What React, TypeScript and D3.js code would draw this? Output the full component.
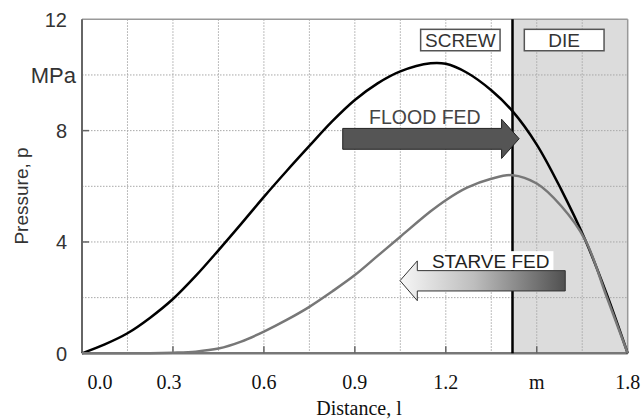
import React from "react";
import * as d3 from "d3";

const distance = [0, 0.075, 0.15, 0.225, 0.3, 0.375, 0.45, 0.525, 0.6, 0.675, 0.75, 0.825, 0.9, 0.975, 1.05, 1.15, 1.2, 1.27, 1.35, 1.42, 1.5, 1.58, 1.66, 1.73, 1.8];
const floodFed = [0, 0.32, 0.72, 1.28, 1.95, 2.78, 3.7, 4.65, 5.62, 6.55, 7.45, 8.33, 9.1, 9.7, 10.13, 10.42, 10.4, 10.08, 9.45, 8.7, 7.5, 5.9, 4.07, 2.15, 0];
const starveFed = [0, 0, 0, 0, 0.02, 0.06, 0.17, 0.42, 0.78, 1.2, 1.67, 2.22, 2.81, 3.5, 4.19, 5.1, 5.5, 5.95, 6.27, 6.4, 6.1, 5.3, 4.07, 2.05, 0];

const xTickValues = [0, 0.3, 0.6, 0.9, 1.2, 1.5, 1.8];
const xTickLabels = ["0.0", "0.3", "0.6", "0.9", "1.2", "m", "1.8"];
const yTickValues = [0, 4, 8, 10, 12];
const yTickLabels = ["0", "4", "8", "MPa", "12"];
const xGrid = [0.15, 0.3, 0.45, 0.6, 0.75, 0.9, 1.05, 1.2, 1.35, 1.5, 1.65];
const yGrid = [2, 4, 6, 8, 10];
const dieStart = 1.42;
const xMax = 1.8;
const yMax = 12;

export default function App() {
  const W = 643, H = 419;
  const x = d3.scaleLinear().domain([0, xMax]).range([82, 627.7]);
  const y = d3.scaleLinear().domain([0, yMax]).range([353.3, 19.3]);
  const x0 = x(0), x1 = x(xMax), y0 = y(0), y1 = y(yMax);

  const line = (vals: number[]) =>
    d3.line<number>()
      .x((_, i) => x(distance[i]))
      .y((d) => Math.min(y0, y(d)))
      .curve(d3.curveCatmullRom.alpha(0.5))(vals) as string;

  const sans = "'Liberation Sans', Arial, sans-serif";
  const serif = "'Liberation Serif', 'Times New Roman', serif";

  const fa = {
    bx0: x(0.86), bx1: x(1.384), by0: y(8.08), by1: y(7.33),
    hy0: y(8.41), hy1: y(7.0), tx: x(1.442), ty: y(7.71),
  };
  const floodPath = `M${fa.bx0},${fa.by0}L${fa.bx1},${fa.by0}L${fa.bx1},${fa.hy0}L${fa.tx},${fa.ty}L${fa.bx1},${fa.hy1}L${fa.bx1},${fa.by1}L${fa.bx0},${fa.by1}Z`;

  const sa = {
    tx: x(1.049), ty: y(2.61), hx: x(1.106), hy0: y(3.32), hy1: y(1.89),
    bx1: x(1.594), by0: y(2.97), by1: y(2.24),
  };
  const starvePath = `M${sa.tx},${sa.ty}L${sa.hx},${sa.hy0}L${sa.hx},${sa.by0}L${sa.bx1},${sa.by0}L${sa.bx1},${sa.by1}L${sa.hx},${sa.by1}L${sa.hx},${sa.hy1}Z`;

  return (
    <svg width={W} height={H} style={{ position: "absolute", left: 0, top: 0, background: "#fff" }}>
      <defs>
        <linearGradient id="starveGrad" x1="0" x2="1" y1="0" y2="0">
          <stop offset="0" stopColor="#f7f7f7" />
          <stop offset="0.45" stopColor="#bdbdbd" />
          <stop offset="1" stopColor="#505050" />
        </linearGradient>
      </defs>
      <rect x={x(dieStart)} y={y1} width={x1 - x(dieStart)} height={y0 - y1} fill="#dcdcdc" />
      {xGrid.map((v) => (
        <line key={"gx" + v} x1={x(v)} x2={x(v)} y1={y1} y2={y0} stroke="#a8a8a8" strokeWidth={1} strokeDasharray="1.5,1.5" />
      ))}
      {yGrid.map((v) => (
        <line key={"gy" + v} x1={x0} x2={x1} y1={y(v)} y2={y(v)} stroke="#a8a8a8" strokeWidth={1} strokeDasharray="1.5,1.5" />
      ))}
      <line x1={x0} x2={x1} y1={y1} y2={y1} stroke="#999" strokeWidth={1.5} />
      <line x1={x1} x2={x1} y1={y1} y2={y0} stroke="#999" strokeWidth={1.5} />
      <line x1={x0} x2={x0} y1={y1} y2={y0} stroke="#666" strokeWidth={2} />
      <line x1={x0} x2={x1} y1={y0} y2={y0} stroke="#777" strokeWidth={2.5} />
      {xTickValues.slice(1, -1).map((v) => (
        <line key={"xt" + v} x1={x(v)} x2={x(v)} y1={y0} y2={y0 - 7} stroke="#666" strokeWidth={1.5} />
      ))}
      {[4, 8].map((v) => (
        <line key={"yt" + v} x1={x0} x2={x0 + 7} y1={y(v)} y2={y(v)} stroke="#666" strokeWidth={1.5} />
      ))}
      <line x1={x(dieStart)} x2={x(dieStart)} y1={y1} y2={y0} stroke="#000" strokeWidth={2.5} />
      <path d={line(floodFed)} fill="none" stroke="#000" strokeWidth={2.5} />
      <path d={line(starveFed)} fill="none" stroke="#777" strokeWidth={2.5} />
      <rect x={x(1.117)} y={y(11.64)} width={x(1.379) - x(1.117)} height={y(10.87) - y(11.64)} fill="#fff" stroke="#555" strokeWidth={1.5} />
      <text x={(x(1.117) + x(1.379)) / 2} y={y(11.64) + 18} textAnchor="middle" fontFamily={sans} fontSize={19} fill="#333">SCREW</text>
      <rect x={x(1.459)} y={y(11.64)} width={x(1.722) - x(1.459)} height={y(10.87) - y(11.64)} fill="#fff" stroke="#555" strokeWidth={1.5} />
      <text x={(x(1.459) + x(1.722)) / 2} y={y(11.64) + 18} textAnchor="middle" fontFamily={sans} fontSize={19} fill="#333">DIE</text>
      <path d={floodPath} fill="#555" stroke="#222" strokeWidth={1} />
      <text x={x(1.131)} y={y(8.23)} textAnchor="middle" fontFamily={sans} fontSize={19.5} fill="#444">FLOOD FED</text>
      <rect x={x(1.18)} y={y(3.67)} width={x(1.555) - x(1.18)} height={y(2.98) - y(3.67)} fill="#fff" />
      <text x={x(1.348)} y={y(3.05)} textAnchor="middle" fontFamily={sans} fontSize={19} fill="#222">STARVE FED</text>
      <path d={starvePath} fill="url(#starveGrad)" stroke="#333" strokeWidth={1} />
      {yTickValues.map((v, i) => (
        <text key={"yl" + v} x={yTickLabels[i] === "MPa" ? x0 - 6 : x0 - 15} y={y(v)} dy="0.36em" textAnchor="end"
          fontFamily={sans} fontSize={yTickLabels[i] === "MPa" ? 22 : 20} fill="#333">{yTickLabels[i]}</text>
      ))}
      <text transform={`translate(28,196) rotate(-90)`} textAnchor="middle" fontFamily={sans} fontSize={19} fill="#333">Pressure, p</text>
      {xTickValues.map((v, i) => (
        <text key={"xl" + v} x={x(v) + (i === 0 ? 18 : i === 1 ? -4 : 0)} y={389} textAnchor="middle" fontFamily={serif} fontSize={20} fill="#111">{xTickLabels[i]}</text>
      ))}
      <text x={359} y={415} textAnchor="middle" fontFamily={serif} fontSize={20} fill="#111">Distance, l</text>
    </svg>
  );
}
